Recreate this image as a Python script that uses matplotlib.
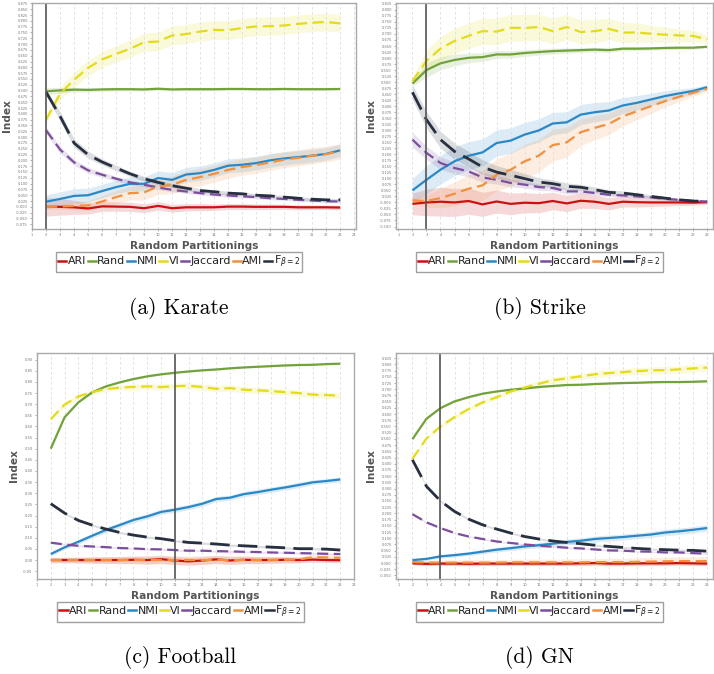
import numpy as np
import matplotlib
matplotlib.use("Agg")
import matplotlib.pyplot as plt
from matplotlib.lines import Line2D

# x positions: number of random partitionings
parts = list(range(2, 24))

names = ["ARI", "Rand", "NMI", "VI", "Jaccard", "AMI", r"F$_{\beta=2}$"]
colors = ["#cc1111", "#72a23c", "#2a88c6", "#e4dc1a", "#7b4f9d", "#f0913f", "#283040"]

# ---- Karate
k_ari = [0.0, 0.0, -0.002, -0.007, 0.002, 0.001, 0.0, -0.006, 0.004, -0.006, -0.002, -0.002, -0.002, 0.001, 0.001, 0.0, 0.0, 0.0, -0.002, -0.002, -0.002, -0.003]
k_rand = [0.497, 0.501, 0.504, 0.503, 0.505, 0.506, 0.506, 0.505, 0.508, 0.505, 0.506, 0.506, 0.506, 0.507, 0.507, 0.506, 0.506, 0.507, 0.506, 0.506, 0.506, 0.507]
k_nmi = [0.022, 0.034, 0.047, 0.050, 0.068, 0.085, 0.099, 0.099, 0.124, 0.116, 0.139, 0.145, 0.159, 0.177, 0.181, 0.188, 0.200, 0.208, 0.214, 0.220, 0.228, 0.243]
k_vi = [0.375, 0.487, 0.547, 0.598, 0.634, 0.658, 0.680, 0.708, 0.711, 0.737, 0.743, 0.754, 0.761, 0.760, 0.769, 0.776, 0.777, 0.780, 0.787, 0.792, 0.795, 0.789]
k_jac = [0.329, 0.246, 0.191, 0.157, 0.138, 0.121, 0.105, 0.095, 0.083, 0.073, 0.066, 0.059, 0.053, 0.049, 0.045, 0.042, 0.037, 0.034, 0.030, 0.027, 0.024, 0.023]
k_ami = [0.000, 0.001, 0.004, 0.006, 0.023, 0.042, 0.059, 0.062, 0.088, 0.095, 0.116, 0.128, 0.142, 0.159, 0.171, 0.180, 0.191, 0.203, 0.211, 0.220, 0.227, 0.239]
k_fb = [0.493, 0.389, 0.274, 0.224, 0.193, 0.167, 0.142, 0.121, 0.105, 0.091, 0.080, 0.070, 0.065, 0.059, 0.056, 0.050, 0.047, 0.042, 0.037, 0.033, 0.030, 0.030]
k_ari_sd = [0.040, 0.036, 0.030, 0.024, 0.021, 0.020, 0.020, 0.019, 0.018, 0.017, 0.016, 0.015, 0.014, 0.013, 0.013, 0.012, 0.012, 0.011, 0.011, 0.010, 0.010, 0.010]
k_rand_sd = [0.016, 0.012, 0.010, 0.009, 0.008, 0.008, 0.007, 0.007, 0.007, 0.006, 0.006, 0.006, 0.006, 0.006, 0.005, 0.005, 0.005, 0.005, 0.005, 0.005, 0.005, 0.005]
k_nmi_sd = [0.030, 0.030, 0.031, 0.030, 0.029, 0.029, 0.030, 0.030, 0.031, 0.031, 0.031, 0.031, 0.030, 0.030, 0.030, 0.029, 0.029, 0.028, 0.028, 0.028, 0.027, 0.026]
k_vi_sd = [0.015, 0.028, 0.032, 0.033, 0.034, 0.035, 0.037, 0.039, 0.040, 0.041, 0.041, 0.041, 0.040, 0.040, 0.040, 0.040, 0.039, 0.039, 0.038, 0.038, 0.038, 0.037]
k_jac_sd = [0.015, 0.014, 0.013, 0.012, 0.011, 0.010, 0.010, 0.009, 0.009, 0.008, 0.008, 0.008, 0.007, 0.007, 0.007, 0.007, 0.007, 0.006, 0.006, 0.006, 0.006, 0.006]
k_ami_sd = [0.010, 0.012, 0.016, 0.020, 0.025, 0.028, 0.030, 0.032, 0.035, 0.038, 0.038, 0.037, 0.036, 0.036, 0.035, 0.035, 0.035, 0.035, 0.035, 0.035, 0.034, 0.033]
k_fb_sd = [0.012, 0.020, 0.018, 0.015, 0.013, 0.012, 0.011, 0.010, 0.010, 0.009, 0.009, 0.008, 0.008, 0.008, 0.007, 0.007, 0.007, 0.007, 0.007, 0.006, 0.006, 0.006]

# ---- Strike
s_ari = [-0.006, 0.0, 0.003, 0.0, 0.006, -0.008, 0.004, -0.006, -0.001, -0.003, 0.006, -0.004, 0.007, 0.003, -0.006, 0.003, 0.001, 0.0, 0.0, 0.0, -0.001, 0.001]
s_rand = [0.494, 0.550, 0.578, 0.592, 0.601, 0.604, 0.615, 0.615, 0.621, 0.625, 0.629, 0.631, 0.633, 0.635, 0.633, 0.639, 0.639, 0.640, 0.642, 0.643, 0.643, 0.647]
s_nmi = [0.050, 0.094, 0.136, 0.171, 0.194, 0.208, 0.247, 0.257, 0.282, 0.299, 0.328, 0.333, 0.365, 0.375, 0.382, 0.403, 0.414, 0.428, 0.442, 0.453, 0.463, 0.479]
s_vi = [0.504, 0.588, 0.639, 0.671, 0.692, 0.712, 0.710, 0.726, 0.725, 0.729, 0.712, 0.729, 0.708, 0.712, 0.721, 0.706, 0.706, 0.701, 0.697, 0.694, 0.692, 0.678]
s_jac = [0.261, 0.206, 0.164, 0.143, 0.129, 0.104, 0.094, 0.081, 0.074, 0.064, 0.060, 0.046, 0.046, 0.039, 0.032, 0.029, 0.025, 0.021, 0.015, 0.011, 0.006, 0.004]
s_ami = [0.008, 0.006, 0.018, 0.036, 0.057, 0.071, 0.115, 0.136, 0.171, 0.194, 0.238, 0.250, 0.292, 0.310, 0.326, 0.358, 0.379, 0.400, 0.421, 0.439, 0.456, 0.472]
s_fb = [0.458, 0.344, 0.261, 0.212, 0.181, 0.147, 0.126, 0.113, 0.099, 0.085, 0.078, 0.067, 0.063, 0.053, 0.042, 0.039, 0.032, 0.025, 0.018, 0.011, 0.006, 0.004]
s_ari_sd = [0.045, 0.055, 0.060, 0.058, 0.055, 0.050, 0.048, 0.045, 0.042, 0.040, 0.036, 0.034, 0.031, 0.028, 0.025, 0.022, 0.020, 0.017, 0.015, 0.013, 0.011, 0.010]
s_rand_sd = [0.010, 0.030, 0.027, 0.024, 0.020, 0.018, 0.016, 0.015, 0.014, 0.013, 0.012, 0.011, 0.010, 0.010, 0.009, 0.008, 0.008, 0.007, 0.007, 0.006, 0.006, 0.005]
s_nmi_sd = [0.050, 0.058, 0.060, 0.060, 0.058, 0.056, 0.055, 0.053, 0.050, 0.048, 0.046, 0.044, 0.042, 0.040, 0.037, 0.033, 0.030, 0.026, 0.022, 0.018, 0.014, 0.010]
s_vi_sd = [0.015, 0.045, 0.050, 0.052, 0.053, 0.054, 0.055, 0.055, 0.055, 0.054, 0.053, 0.052, 0.050, 0.048, 0.045, 0.042, 0.039, 0.035, 0.031, 0.027, 0.023, 0.018]
s_jac_sd = [0.030, 0.028, 0.026, 0.024, 0.022, 0.020, 0.018, 0.016, 0.015, 0.013, 0.012, 0.011, 0.010, 0.009, 0.008, 0.007, 0.007, 0.006, 0.005, 0.005, 0.004, 0.004]
s_ami_sd = [0.010, 0.025, 0.040, 0.050, 0.058, 0.063, 0.067, 0.070, 0.070, 0.068, 0.066, 0.062, 0.056, 0.050, 0.045, 0.040, 0.035, 0.030, 0.025, 0.020, 0.015, 0.010]
s_fb_sd = [0.030, 0.034, 0.035, 0.034, 0.032, 0.030, 0.027, 0.024, 0.021, 0.018, 0.016, 0.014, 0.012, 0.011, 0.010, 0.009, 0.008, 0.007, 0.006, 0.005, 0.004, 0.004]

# ---- Football
f_ari = [0.0, 0.0, 0.0, 0.0, 0.0, 0.0, 0.001, 0.0, 0.004, -0.002, -0.006, -0.002, 0.003, -0.002, 0.001, 0.0, 0.0, 0.001, 0.0, 0.002, 0.0, -0.001]
f_rand = [0.500, 0.641, 0.708, 0.753, 0.780, 0.798, 0.813, 0.825, 0.834, 0.841, 0.847, 0.852, 0.856, 0.861, 0.865, 0.868, 0.871, 0.874, 0.876, 0.877, 0.880, 0.882]
f_nmi = [0.027, 0.057, 0.082, 0.109, 0.135, 0.157, 0.180, 0.196, 0.216, 0.226, 0.238, 0.253, 0.274, 0.280, 0.296, 0.305, 0.316, 0.326, 0.337, 0.349, 0.355, 0.362]
f_vi = [0.633, 0.698, 0.735, 0.754, 0.768, 0.774, 0.778, 0.780, 0.777, 0.781, 0.783, 0.777, 0.769, 0.772, 0.765, 0.762, 0.759, 0.754, 0.750, 0.743, 0.741, 0.738]
f_jac = [0.078, 0.070, 0.064, 0.061, 0.058, 0.054, 0.052, 0.049, 0.048, 0.045, 0.042, 0.042, 0.040, 0.039, 0.037, 0.036, 0.034, 0.033, 0.031, 0.030, 0.028, 0.027]
f_ami = [0.0, 0.0, 0.0, 0.0, 0.0, 0.0, 0.0, 0.0, 0.0, 0.0, 0.0, 0.0, 0.001, 0.0, 0.0, 0.0, 0.001, 0.001, 0.002, 0.013, 0.012, 0.010]
f_fb = [0.253, 0.211, 0.178, 0.157, 0.139, 0.124, 0.112, 0.103, 0.096, 0.087, 0.079, 0.076, 0.072, 0.067, 0.064, 0.061, 0.058, 0.055, 0.051, 0.051, 0.049, 0.045]
f_ari_sd = [0.012, 0.012, 0.013, 0.014, 0.015, 0.016, 0.017, 0.018, 0.018, 0.018, 0.018, 0.018, 0.018, 0.018, 0.017, 0.016, 0.015, 0.014, 0.013, 0.012, 0.012, 0.011]
f_rand_sd = [0.004, 0.004, 0.003, 0.003, 0.003, 0.003, 0.003, 0.003, 0.003, 0.003, 0.003, 0.003, 0.003, 0.003, 0.003, 0.003, 0.003, 0.003, 0.003, 0.003, 0.003, 0.003]
f_nmi_sd = [0.008, 0.009, 0.010, 0.011, 0.012, 0.012, 0.012, 0.012, 0.012, 0.012, 0.012, 0.012, 0.012, 0.012, 0.012, 0.012, 0.012, 0.012, 0.012, 0.011, 0.011, 0.011]
f_vi_sd = [0.008, 0.010, 0.011, 0.012, 0.012, 0.012, 0.012, 0.013, 0.013, 0.013, 0.014, 0.014, 0.014, 0.014, 0.014, 0.014, 0.014, 0.013, 0.013, 0.013, 0.013, 0.013]
f_jac_sd = [0.004, 0.004, 0.004, 0.004, 0.004, 0.004, 0.004, 0.004, 0.004, 0.004, 0.004, 0.004, 0.004, 0.004, 0.004, 0.004, 0.004, 0.004, 0.004, 0.004, 0.004, 0.004]
f_ami_sd = [0.012, 0.012, 0.013, 0.014, 0.015, 0.016, 0.017, 0.018, 0.018, 0.018, 0.018, 0.018, 0.018, 0.018, 0.017, 0.016, 0.015, 0.014, 0.013, 0.012, 0.012, 0.011]
f_fb_sd = [0.005, 0.005, 0.005, 0.005, 0.005, 0.005, 0.005, 0.005, 0.005, 0.005, 0.005, 0.005, 0.005, 0.005, 0.005, 0.005, 0.005, 0.005, 0.005, 0.005, 0.005, 0.005]

# ---- GN
g_ari = [-0.001, -0.003, -0.002, -0.002, -0.003, -0.002, -0.002, -0.002, -0.002, -0.002, -0.002, -0.002, -0.001, 0.0, -0.002, -0.002, -0.001, -0.001, -0.001, 0.0, -0.001, -0.002]
g_rand = [0.499, 0.581, 0.624, 0.651, 0.668, 0.682, 0.691, 0.698, 0.703, 0.709, 0.713, 0.717, 0.718, 0.721, 0.723, 0.725, 0.726, 0.728, 0.729, 0.729, 0.730, 0.732]
g_nmi = [0.012, 0.017, 0.027, 0.032, 0.038, 0.046, 0.054, 0.060, 0.067, 0.072, 0.078, 0.085, 0.090, 0.097, 0.101, 0.105, 0.110, 0.115, 0.123, 0.128, 0.134, 0.141]
g_vi = [0.420, 0.502, 0.550, 0.588, 0.620, 0.647, 0.668, 0.691, 0.707, 0.722, 0.736, 0.744, 0.752, 0.760, 0.765, 0.769, 0.773, 0.776, 0.777, 0.780, 0.784, 0.787]
g_jac = [0.197, 0.164, 0.141, 0.121, 0.107, 0.097, 0.087, 0.081, 0.075, 0.070, 0.066, 0.062, 0.059, 0.055, 0.051, 0.050, 0.047, 0.046, 0.043, 0.043, 0.040, 0.038]
g_ami = [0.004, 0.002, 0.002, 0.002, 0.002, 0.002, 0.002, 0.003, 0.003, 0.003, 0.003, 0.003, 0.003, 0.004, 0.004, 0.004, 0.005, 0.006, 0.007, 0.008, 0.008, 0.008]
g_fb = [0.416, 0.309, 0.250, 0.208, 0.177, 0.154, 0.137, 0.121, 0.107, 0.097, 0.089, 0.083, 0.078, 0.072, 0.067, 0.063, 0.059, 0.056, 0.054, 0.052, 0.051, 0.048]
g_ari_sd = [0.006, 0.007, 0.007, 0.008, 0.008, 0.008, 0.008, 0.008, 0.008, 0.008, 0.008, 0.008, 0.008, 0.008, 0.008, 0.008, 0.008, 0.008, 0.008, 0.008, 0.008, 0.008]
g_rand_sd = [0.003, 0.003, 0.003, 0.003, 0.003, 0.003, 0.003, 0.003, 0.003, 0.003, 0.003, 0.003, 0.003, 0.003, 0.003, 0.003, 0.003, 0.003, 0.003, 0.003, 0.003, 0.003]
g_nmi_sd = [0.005, 0.006, 0.007, 0.008, 0.008, 0.009, 0.009, 0.010, 0.010, 0.010, 0.011, 0.011, 0.011, 0.012, 0.012, 0.012, 0.012, 0.012, 0.013, 0.013, 0.013, 0.013]
g_vi_sd = [0.005, 0.006, 0.007, 0.008, 0.008, 0.009, 0.009, 0.010, 0.010, 0.011, 0.011, 0.012, 0.012, 0.013, 0.013, 0.013, 0.014, 0.014, 0.015, 0.015, 0.015, 0.015]
g_jac_sd = [0.003, 0.003, 0.003, 0.003, 0.003, 0.003, 0.003, 0.003, 0.003, 0.003, 0.003, 0.003, 0.003, 0.003, 0.003, 0.003, 0.003, 0.003, 0.003, 0.003, 0.003, 0.003]
g_ami_sd = [0.010, 0.010, 0.011, 0.011, 0.012, 0.012, 0.012, 0.012, 0.013, 0.013, 0.013, 0.014, 0.014, 0.014, 0.015, 0.015, 0.016, 0.016, 0.017, 0.017, 0.018, 0.018]
g_fb_sd = [0.004, 0.004, 0.004, 0.004, 0.004, 0.004, 0.004, 0.004, 0.004, 0.004, 0.004, 0.004, 0.004, 0.004, 0.004, 0.004, 0.004, 0.004, 0.004, 0.004, 0.004, 0.004]

styles = [(0, ()), (0, ()), (0, ()), (0, (5, 2.5)), (0, (5, 2.5)), (0, (5, 2.5)), (0, (7, 3))]
widths = [1.6, 1.6, 1.6, 1.6, 1.6, 1.6, 2.0]

fig = plt.figure(figsize=(7.14, 6.74), dpi=100)
fig.patch.set_facecolor("white")


def panel(rect, series, bands, mark, ylim, ystep, fmt, xlim, xmax_tick, caption):
    ax = fig.add_axes(rect)
    for i in range(7):
        y = np.array(series[i])
        sd = np.array(bands[i])
        ax.fill_between(parts, y - sd, y + sd, color=colors[i], alpha=0.16, lw=0)
    for i in range(7):
        ax.plot(parts, series[i], color=colors[i], lw=widths[i], linestyle=styles[i],
                solid_capstyle="butt")
    ax.axvline(mark, color="#555555", lw=1.2)
    ax.set_xlim(*xlim)
    ax.set_ylim(*ylim)
    ax.set_xticks(range(1, xmax_tick + 1))
    ax.xaxis.grid(True, color="#dddddd", linestyle=(0, (3, 3)), lw=0.6)
    yt = np.arange(round(ylim[0] / ystep) * ystep, ylim[1], ystep)
    yt = [v for v in yt if ylim[0] <= v <= ylim[1]]
    ax.set_yticks(yt)
    ax.set_yticklabels([fmt % v for v in yt])
    ax.tick_params(labelsize=2.6, colors="#777777", length=1.5, width=0.4, pad=1.5)
    for s in ax.spines.values():
        s.set_color("#aaaaaa")
        s.set_linewidth(1.0)
    ax.set_xlabel("Random Partitionings", fontsize=7.6, fontweight="bold", color="#555555", labelpad=3)
    ax.set_ylabel("Index", fontsize=7.6, fontweight="bold", color="#555555", labelpad=3)
    # legend and caption sit a little left of the axes centre
    shift = 15 / (rect[2] * 714)
    handles = [Line2D([0], [0], color=c, lw=1.8) for c in colors]
    leg = ax.legend(handles, names, loc="upper center", bbox_to_anchor=(0.5 - shift, -0.1),
                    ncol=7, fontsize=7.9, handlelength=0.75, handletextpad=0.12,
                    columnspacing=0.15, borderpad=0.18, frameon=True, fancybox=False,
                    borderaxespad=0)
    leg.get_frame().set_edgecolor("#888888")
    leg.get_frame().set_linewidth(1.0)
    for t in leg.get_texts():
        t.set_color("#222222")
    cx = rect[0] + rect[2] / 2 - 15 / 714
    fig.text(cx, rect[1] - 0.117, caption, ha="center", va="center", fontsize=15.5, family="cmr10")
    return ax


panel([0.045, 0.660, 0.454, 0.336],
      [k_ari, k_rand, k_nmi, k_vi, k_jac, k_ami, k_fb],
      [k_ari_sd, k_rand_sd, k_nmi_sd, k_vi_sd, k_jac_sd, k_ami_sd, k_fb_sd],
      2, (-0.096, 0.878), 0.025, "%.3f", (1, 24.15), 24, "(a) Karate")

panel([0.5546, 0.660, 0.444, 0.336],
      [s_ari, s_rand, s_nmi, s_vi, s_jac, s_ami, s_fb],
      [s_ari_sd, s_rand_sd, s_nmi_sd, s_vi_sd, s_jac_sd, s_ami_sd, s_fb_sd],
      3, (-0.111, 0.83), 0.025, "%.3f", (0.83, 23.42), 23, "(b) Strike")

panel([0.0518, 0.141, 0.444, 0.3353],
      [f_ari, f_rand, f_nmi, f_vi, f_jac, f_ami, f_fb],
      [f_ari_sd, f_rand_sd, f_nmi_sd, f_vi_sd, f_jac_sd, f_ami_sd, f_fb_sd],
      11, (-0.085, 0.93), 0.05, "%.2f", (1, 24.0), 24, "(c) Football")

panel([0.5546, 0.141, 0.444, 0.3353],
      [g_ari, g_rand, g_nmi, g_vi, g_jac, g_ami, g_fb],
      [g_ari_sd, g_rand_sd, g_nmi_sd, g_vi_sd, g_jac_sd, g_ami_sd, g_fb_sd],
      4, (-0.064, 0.846), 0.025, "%.3f", (0.83, 23.42), 23, "(d) GN")

fig.savefig("out.png", dpi=100, facecolor="white")
